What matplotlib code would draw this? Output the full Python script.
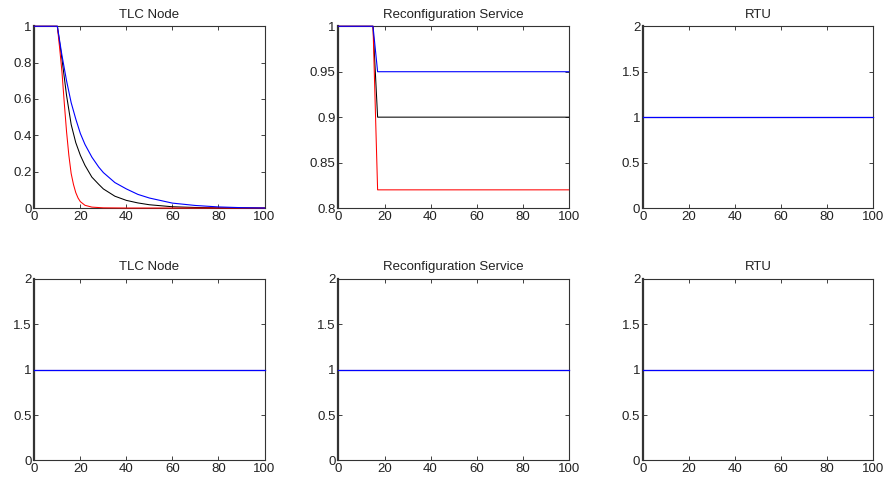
import matplotlib
matplotlib.use("Agg")
import matplotlib.pyplot as plt
import matplotlib.ticker as mtick

plt.rcParams["font.family"] = ["Liberation Sans", "DejaVu Sans"]

# ── Datos ─────────────────────────────────────────────────────────────────────
# TLC Node (fila superior): caída de disponibilidad a partir de t=10
tlc_t_red = [0, 10, 11, 12, 13, 14, 15, 16, 17, 18, 19, 20, 22, 25, 30, 40, 100]
tlc_red = [1, 1, 0.88, 0.75, 0.58, 0.42, 0.29, 0.19, 0.13, 0.085, 0.055,
           0.035, 0.015, 0.005, 0.001, 0, 0]

tlc_t_black = [0, 10, 12, 14, 16, 18, 20, 22, 25, 28, 30, 35, 40, 45, 50,
               60, 70, 80, 100]
tlc_black = [1, 1, 0.82, 0.62, 0.46, 0.36, 0.29, 0.235, 0.17, 0.13, 0.105,
             0.065, 0.042, 0.028, 0.018, 0.007, 0.003, 0.001, 0]

tlc_t_blue = [0, 10, 12, 14, 16, 18, 20, 22, 25, 28, 30, 35, 40, 45, 50,
              60, 70, 80, 90, 100]
tlc_blue = [1, 1, 0.84, 0.70, 0.58, 0.49, 0.41, 0.35, 0.28, 0.225, 0.195,
            0.14, 0.105, 0.075, 0.055, 0.027, 0.014, 0.006, 0.002, 0]

# Reconfiguration Service (fila superior)
rec_t = [0, 15, 17, 100]
rec_red = [1, 1, 0.82, 0.82]
rec_black = [1, 1, 0.90, 0.90]
rec_blue = [1, 1, 0.95, 0.95]

# Resto de paneles: constantes en 1
flat_t = [0, 100]
flat_one = [1, 1]

titulos = ["TLC Node", "Reconfiguration Service", "RTU"]

# ── Figura ────────────────────────────────────────────────────────────────────
fig = plt.figure(figsize=(8.87, 4.84), dpi=100, facecolor="white")

lefts = [0.0387, 0.3816, 0.7249]
width = 0.2595
bottoms = [0.5702, 0.0486]
height = 0.3755


def _estilo(ax, yticks):
    ax.set_xlim(0, 100)
    ax.set_xticks([0, 20, 40, 60, 80, 100])
    ax.set_yticks(yticks)
    ax.set_ylim(yticks[0], yticks[-1])
    ax.yaxis.set_major_formatter(mtick.FormatStrFormatter("%g"))
    ax.tick_params(direction="in", length=3, width=0.6, labelsize=9.5,
                   top=True, right=True, pad=2, colors="#222")
    for s in ["top", "right", "bottom"]:
        ax.spines[s].set_linewidth(0.8)
        ax.spines[s].set_color("#333")
    ax.spines["left"].set_linewidth(1.6)
    ax.spines["left"].set_color("#333")


def _lineas(ax, tr, r, tk, k, tb, b, lw_azul=0.8):
    kw = dict(clip_on=False, zorder=3)
    ax.plot(tk, k, color="black", linewidth=0.75, **kw)
    ax.plot(tr, r, color="red", linewidth=0.75, **kw)
    ax.plot(tb, b, color="blue", linewidth=lw_azul, **kw)


yt_01 = [0, 0.2, 0.4, 0.6, 0.8, 1]
yt_rec = [0.8, 0.85, 0.9, 0.95, 1]
yt_02 = [0, 0.5, 1, 1.5, 2]

for fila, bottom in enumerate(bottoms):
    for col, left in enumerate(lefts):
        ax = fig.add_axes([left, bottom, width, height])
        if fila == 0 and col == 0:
            _lineas(ax, tlc_t_red, tlc_red, tlc_t_black, tlc_black,
                    tlc_t_blue, tlc_blue)
            _estilo(ax, yt_01)
        elif fila == 0 and col == 1:
            _lineas(ax, rec_t, rec_red, rec_t, rec_black, rec_t, rec_blue)
            _estilo(ax, yt_rec)
        else:
            _lineas(ax, flat_t, flat_one, flat_t, flat_one, flat_t, flat_one,
                    lw_azul=0.9)
            _estilo(ax, yt_02)
        ax.set_title(titulos[col], fontsize=9.5, pad=6, color="#222")

fig.savefig("out.png", dpi=100, facecolor="white")
